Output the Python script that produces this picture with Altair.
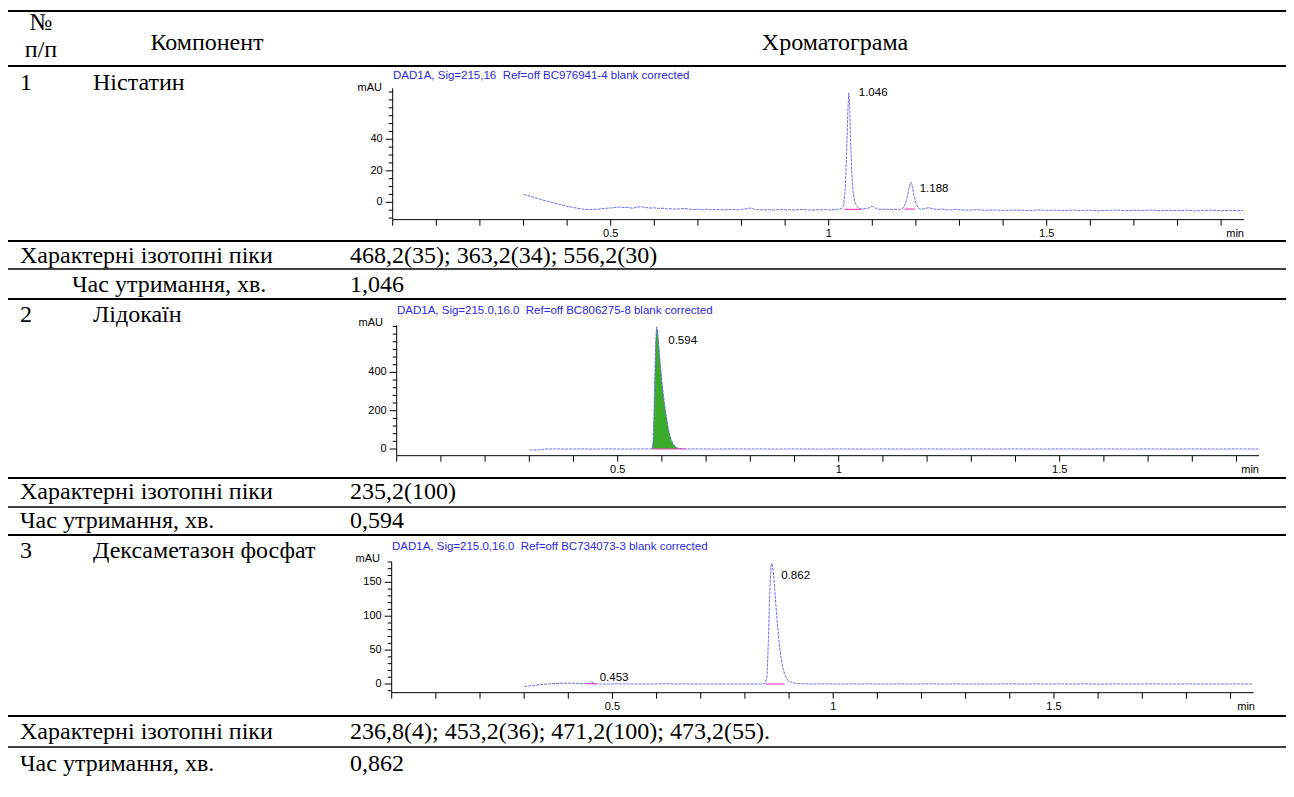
import altair as alt
import pandas as pd

W, H = 1278, 781
MARGIN = 8


def px(x):
    return x - MARGIN


def py(y):
    return y - MARGIN


SERIF = "Liberation Serif"
SANS = "Liberation Sans"
TRACE = "#5f5ff0"
TITLE_BLUE = "#2a2ae6"
PINK = "#ff3fbf"
GREEN = "#3aab2b"

# ---------------- table text ----------------
header_labels = ["№", "п/п", "Компонент", "Хроматограма"]
row_numbers = ["1", "2", "3"]
components = ["Ністатин", "Лідокаїн", "Дексаметазон фосфат"]
isotope_label = "Характерні ізотопні піки"
retention_label = "Час утримання, хв."
isotope_peaks = [
    "468,2(35); 363,2(34); 556,2(30)",
    "235,2(100)",
    "236,8(4); 453,2(36); 471,2(100); 473,2(55).",
]
retention_times = ["1,046", "0,594", "0,862"]
signal_titles = [
    "DAD1A, Sig=215,16 \u00a0Ref=off BC976941-4 blank corrected",
    "DAD1A, Sig=215.0,16.0 \u00a0Ref=off BC806275-8 blank corrected",
    "DAD1A, Sig=215.0,16.0 \u00a0Ref=off BC734073-3 blank corrected",
]

# ---------------- axis ticks ----------------
x_ticks = [0, 0.1, 0.2, 0.3, 0.4, 0.5, 0.6, 0.7, 0.8, 0.9, 1, 1.1, 1.2, 1.3, 1.4, 1.5, 1.6, 1.7, 1.8, 1.9]
x_label_values = [0.5, 1, 1.5]
x_label_texts = ["0.5", "1", "1.5"]
y_major_1 = [0, 20, 40]
y_minor_1 = [-10, -5, 5, 10, 15, 25, 30, 35, 45, 50, 55, 60, 65, 70]
y_major_2 = [0, 200, 400]
y_minor_2 = [40, 80, 120, 160, 240, 280, 320, 360, 440, 480, 520, 560, 600, 640]
y_major_3 = [0, 50, 100, 150]
y_minor_3 = [-10, 10, 20, 30, 40, 60, 70, 80, 90, 110, 120, 130, 140, 160, 170, 180]

# ---------------- chromatogram 1 (Ністатин) ----------------
trace1 = [
    (0.30, 5.0), (0.31, 4.2), (0.32, 3.5), (0.33, 2.6), (0.34, 1.8), (0.35, 1.0), (0.36, 0.3), (0.37, -0.5),
    (0.38, -1.2), (0.39, -1.8), (0.40, -2.5), (0.41, -3.0), (0.42, -3.6), (0.43, -4.1), (0.44, -4.5), (0.45, -4.6),
    (0.46, -4.4), (0.47, -4.5), (0.48, -4.0), (0.49, -3.8), (0.50, -3.6), (0.51, -3.3), (0.52, -3.0), (0.53, -3.4),
    (0.54, -3.2), (0.55, -3.8), (0.56, -3.1), (0.57, -2.9), (0.58, -3.3), (0.59, -3.6), (0.60, -3.5), (0.61, -3.9),
    (0.62, -3.8), (0.63, -4.2), (0.64, -4.0), (0.65, -4.4), (0.66, -4.1), (0.67, -3.9), (0.68, -4.3), (0.69, -4.6),
    (0.70, -4.4), (0.71, -4.7), (0.72, -4.3), (0.73, -4.8), (0.74, -4.5), (0.75, -4.6), (0.76, -4.9), (0.77, -4.4),
    (0.78, -4.6), (0.79, -4.8), (0.80, -4.5), (0.81, -4.2), (0.82, -3.6), (0.83, -4.4), (0.84, -4.7), (0.85, -4.9),
    (0.86, -4.6), (0.87, -5.0), (0.88, -4.7), (0.89, -4.5), (0.90, -4.8), (0.91, -4.6), (0.92, -4.9), (0.93, -4.7),
    (0.94, -4.5), (0.95, -4.8), (0.96, -5.0), (0.97, -4.7), (0.98, -4.8), (0.99, -4.6), (1.00, -4.9), (1.01, -4.7),
    (1.02, -4.5), (1.03, -4.0), (1.034, -2.0), (1.038, 8.0), (1.041, 30.0), (1.044, 58.0), (1.046, 69.5),
    (1.048, 62.0), (1.050, 40.0), (1.053, 18.0), (1.056, 6.0), (1.060, 0.0), (1.065, -2.8), (1.070, -4.0),
    (1.075, -4.3), (1.080, -4.1), (1.090, -3.8), (1.095, -3.0), (1.100, -2.6), (1.105, -3.2), (1.110, -4.2),
    (1.120, -4.5), (1.130, -4.3), (1.140, -4.6), (1.150, -4.4), (1.160, -4.7), (1.170, -4.0), (1.175, -1.5),
    (1.180, 3.0), (1.184, 9.0), (1.188, 12.8), (1.191, 11.0), (1.195, 5.0), (1.200, -0.5), (1.205, -3.5),
    (1.210, -4.4), (1.220, -4.0), (1.230, -3.4), (1.240, -4.2), (1.250, -4.6), (1.260, -4.3), (1.270, -4.7),
    (1.280, -4.9), (1.290, -4.6), (1.300, -4.8), (1.32, -5.0), (1.34, -4.7), (1.36, -5.1), (1.38, -4.8),
    (1.40, -5.2), (1.42, -4.9), (1.44, -5.0), (1.46, -5.3), (1.48, -4.8), (1.50, -5.1), (1.52, -5.0), (1.54, -5.3),
    (1.56, -4.9), (1.58, -5.2), (1.60, -5.0), (1.62, -5.4), (1.64, -5.1), (1.66, -4.9), (1.68, -5.3), (1.70, -5.0),
    (1.72, -5.2), (1.74, -4.9), (1.76, -5.4), (1.78, -5.1), (1.80, -5.3), (1.82, -5.0), (1.84, -5.5), (1.86, -5.2),
    (1.88, -5.0), (1.90, -5.4), (1.92, -5.1), (1.94, -5.3), (1.95, -5.2),
]
peaks1_rt = [1.046, 1.188]
peaks1_height = [69.5, 12.8]
peaks1_label = ["1.046", "1.188"]
baseline1 = [(1.036, 1.075, -4.5), (1.174, 1.198, -4.3)]

# ---------------- chromatogram 2 (Лідокаїн) ----------------
trace2 = [
    (0.300, -5), (0.312, -5), (0.340, 0), (0.36, 0.5), (0.38, -0.5), (0.40, 0), (0.42, 0.5), (0.44, -0.5),
    (0.46, 0), (0.48, 0.5), (0.50, 0), (0.52, -0.5), (0.54, 0), (0.56, 0.5), (0.570, 0), (0.578, 1),
    (0.580, 40), (0.582, 180), (0.584, 380), (0.586, 560), (0.588, 638), (0.590, 620), (0.593, 540),
    (0.596, 450), (0.600, 350), (0.605, 250), (0.610, 170), (0.615, 100), (0.620, 55), (0.625, 28),
    (0.630, 12), (0.635, 5), (0.640, 2), (0.650, 0.5), (0.660, 0), (0.68, 0.5), (0.70, 0), (0.72, -0.5),
    (0.74, 0), (0.76, 0.5), (0.78, 0), (0.80, 0), (0.82, 0.5), (0.84, 0), (0.86, -0.5), (0.88, 0), (0.90, 0.5),
    (0.92, 0), (0.94, 0), (0.96, -0.5), (0.98, 0), (1.00, 0.5), (1.02, 0), (1.04, 0), (1.06, -0.5), (1.08, 0),
    (1.10, 0.5), (1.12, 0), (1.14, 0), (1.16, -0.5), (1.18, 0), (1.20, 0.5), (1.22, 0), (1.24, 0), (1.26, -0.5),
    (1.28, 0), (1.30, 0.5), (1.32, 0), (1.34, 0), (1.36, -0.5), (1.38, 0), (1.40, 0.5), (1.42, 0), (1.44, 0),
    (1.46, -0.5), (1.48, 0), (1.50, 0.5), (1.52, 0), (1.54, 0), (1.56, -0.5), (1.58, 0), (1.60, 0.5), (1.62, 0),
    (1.64, 0), (1.66, -0.5), (1.68, 0), (1.70, 0.5), (1.72, 0), (1.74, 0), (1.76, -0.5), (1.78, 0), (1.80, 0.5),
    (1.82, 0), (1.84, 0), (1.86, -0.5), (1.88, 0), (1.90, 0.5), (1.92, 0), (1.94, 0), (1.95, 0),
]
peaks2_rt = [0.594]
peaks2_height = [638]
peaks2_label = ["0.594"]
baseline2 = [(0.578, 0.655, 0)]
fill2_range = (0.578, 0.650)

# ---------------- chromatogram 3 (Дексаметазон фосфат) ----------------
trace3 = [
    (0.30, -3.5), (0.31, -3.0), (0.32, -2.5), (0.33, -1.6), (0.34, -0.8), (0.35, 0.0), (0.36, 0.5), (0.37, 0.8),
    (0.38, 1.0), (0.39, 1.1), (0.40, 1.0), (0.41, 1.2), (0.42, 0.9), (0.43, 0.7), (0.44, 0.5), (0.445, 0.6),
    (0.448, 1.5), (0.451, 3.0), (0.453, 3.5), (0.456, 2.2), (0.460, 0.4), (0.47, 0.0), (0.48, -0.2), (0.49, 0.1),
    (0.50, 0.0), (0.52, 0.3), (0.54, -0.1), (0.56, 0.2), (0.58, 0.0), (0.60, 0.1), (0.62, 0.5), (0.64, 0.0),
    (0.66, 0.2), (0.68, -0.1), (0.70, 0.0), (0.72, 0.1), (0.74, -0.2), (0.76, 0.0), (0.78, 0.1), (0.80, -0.1),
    (0.82, 0.0), (0.84, 0.1), (0.846, 0.5), (0.850, 10), (0.853, 60), (0.856, 130), (0.859, 172), (0.861, 178),
    (0.864, 168), (0.867, 145), (0.870, 118), (0.874, 85), (0.878, 58), (0.882, 38), (0.886, 24), (0.890, 14),
    (0.895, 8), (0.900, 4), (0.910, 1.5), (0.920, 0.5), (0.94, 0.2), (0.96, 0.0), (0.98, 0.3), (1.00, 0.1),
    (1.02, -0.2), (1.04, 0.2), (1.06, 0.0), (1.08, 0.3), (1.10, -0.1), (1.12, 0.1), (1.14, 0.0), (1.16, 0.2),
    (1.18, -0.2), (1.20, 0.1), (1.22, 0.3), (1.24, 0.0), (1.26, -0.1), (1.28, 0.2), (1.30, 0.0), (1.32, 0.1),
    (1.34, -0.2), (1.36, 0.2), (1.38, 0.0), (1.40, 0.3), (1.42, -0.1), (1.44, 0.0), (1.46, 0.2), (1.48, 0.1),
    (1.50, -0.1), (1.52, 0.2), (1.54, 0.0), (1.56, 0.1), (1.58, 0.3), (1.60, -0.2), (1.62, 0.0), (1.64, 0.2),
    (1.66, 0.1), (1.68, -0.1), (1.70, 0.0), (1.72, 0.2), (1.74, 0.1), (1.76, 0.0), (1.78, -0.1), (1.80, 0.2),
    (1.82, 0.0), (1.84, 0.1), (1.86, -0.1), (1.88, 0.1), (1.90, 0.0), (1.92, 0.2), (1.94, 0.0), (1.95, 0.1),
]
peaks3_rt = [0.453, 0.862]
peaks3_height = [3.5, 178]
peaks3_label = ["0.453", "0.862"]
baseline3 = [(0.442, 0.465, 0.5), (0.848, 0.890, 0)]

# ---------------- layout (reference pixel geometry) ----------------
GEO = [
    dict(x0=392.7, xs=436.0, xmax=1.953, y0=202.3, ys=1.575, ymin=-11.0, ymax=72.4,
         title=(393, 76), mau=(382, 88), minl=(1244, 234), label_off=[(10, 0), (9, 7)]),
    dict(x0=396.7, xs=442.0, xmax=1.951, y0=449.0, ys=0.1915, ymin=-35.0, ymax=647.0,
         title=(397, 311), mau=(383, 323), minl=(1259, 470), label_off=[(9, 14)]),
    dict(x0=391.7, xs=441.5, xmax=1.952, y0=684.0, ys=0.678, ymin=-12.8, ymax=180.4,
         title=(392, 547), mau=(380, 559), minl=(1255, 707), label_off=[(8, -4), (9, 13)]),
]

ONE = pd.DataFrame({"k": [0]})


def text_mark(s, x, y, align="left", size=24, font=SERIF, color="black"):
    return alt.Chart(pd.DataFrame({"s": [s]})).mark_text(
        align=align, baseline="middle", font=font, fontSize=size, color=color
    ).encode(text="s:N", x=alt.value(px(x)), y=alt.value(py(y)))


def hline(y, width=2.0):
    return alt.Chart(ONE).mark_rule(color="black", strokeWidth=width).encode(
        x=alt.value(0), x2=alt.value(W), y=alt.value(py(y))
    )


def chromatogram(trace, rts, heights, labels, baselines, y_major, y_minor, title, g, fill=None):
    xr0 = px(g["x0"])
    xr1 = px(g["x0"] + g["xmax"] * g["xs"])
    yb = py(g["y0"] - g["ymin"] * g["ys"])
    yt = py(g["y0"] - g["ymax"] * g["ys"])
    xs = alt.Scale(domain=[0, g["xmax"]], range=[xr0, xr1], nice=False, zero=False)
    ys = alt.Scale(domain=[g["ymin"], g["ymax"]], range=[yb, yt], nice=False, zero=False)
    df = pd.DataFrame(trace, columns=["t", "v"])
    layers = []

    # --- axes drawn through the chromatogram's own scales ---
    layers.append(alt.Chart(ONE).mark_rule(color="black", strokeWidth=1).encode(
        x=alt.X(datum=0, scale=xs, axis=None), x2=alt.X2(datum=g["xmax"]),
        y=alt.Y(datum=g["ymin"], scale=ys, axis=None)))
    layers.append(alt.Chart(ONE).mark_rule(color="black", strokeWidth=1).encode(
        x=alt.X(datum=0, scale=xs, axis=None),
        y=alt.Y(datum=g["ymin"], scale=ys, axis=None), y2=alt.Y2(datum=g["ymax"])))
    layers.append(alt.Chart(pd.DataFrame({"m": x_ticks})).mark_rule(color="black", strokeWidth=1).encode(
        x=alt.X("m:Q", scale=xs, axis=None),
        y=alt.Y(datum=g["ymin"], scale=ys, axis=None), y2=alt.value(yb + 6)))
    layers.append(alt.Chart(pd.DataFrame({"m": x_label_values, "s": x_label_texts})).mark_text(
        align="center", baseline="middle", font=SANS, fontSize=11, color="black", dy=14).encode(
        x=alt.X("m:Q", scale=xs, axis=None),
        y=alt.Y(datum=g["ymin"], scale=ys, axis=None), text="s:N"))
    layers.append(alt.Chart(pd.DataFrame({"m": y_major})).mark_rule(color="black", strokeWidth=1).encode(
        y=alt.Y("m:Q", scale=ys, axis=None),
        x=alt.X(datum=0, scale=xs, axis=None), x2=alt.value(xr0 - 7)))
    layers.append(alt.Chart(pd.DataFrame({"m": y_minor})).mark_rule(color="black", strokeWidth=1).encode(
        y=alt.Y("m:Q", scale=ys, axis=None),
        x=alt.X(datum=0, scale=xs, axis=None), x2=alt.value(xr0 - 4)))
    layers.append(alt.Chart(pd.DataFrame({"m": y_major})).mark_text(
        align="right", baseline="middle", font=SANS, fontSize=11, color="black", dx=-10).encode(
        y=alt.Y("m:Q", scale=ys, axis=None),
        x=alt.X(datum=0, scale=xs, axis=None), text=alt.Text("m:Q", format="d")))

    # --- signal ---
    if fill is not None:
        layers.append(
            alt.Chart(df).transform_filter(
                (alt.datum.t >= fill[0]) & (alt.datum.t <= fill[1])
            ).mark_area(color=GREEN, opacity=1).encode(
                x=alt.X("t:Q", scale=xs, axis=None),
                y=alt.Y("v:Q", scale=ys, axis=None),
                y2=alt.Y2(datum=0),
            )
        )
    layers.append(
        alt.Chart(df).mark_line(color=TRACE, strokeWidth=0.9, strokeDash=[3, 1]).encode(
            x=alt.X("t:Q", scale=xs, axis=None),
            y=alt.Y("v:Q", scale=ys, axis=None),
        )
    )
    bl = pd.DataFrame(baselines, columns=["s", "e", "b"])
    layers.append(
        alt.Chart(bl).mark_rule(color=PINK, strokeWidth=1.2).encode(
            x=alt.X("s:Q", scale=xs, axis=None), x2="e:Q",
            y=alt.Y("b:Q", scale=ys, axis=None),
        )
    )
    for i, (rt, h, lab) in enumerate(zip(rts, heights, labels)):
        dx, dy = g["label_off"][i]
        layers.append(
            alt.Chart(pd.DataFrame({"t": [rt], "v": [h], "s": [lab]})).mark_text(
                align="left", baseline="middle", font=SANS, fontSize=11.5, color="black", dx=dx, dy=dy
            ).encode(
                x=alt.X("t:Q", scale=xs, axis=None),
                y=alt.Y("v:Q", scale=ys, axis=None),
                text="s:N",
            )
        )
    # chart annotations
    layers.append(text_mark(title, g["title"][0], g["title"][1], size=11.5, font=SANS, color=TITLE_BLUE))
    layers.append(text_mark("mAU", g["mau"][0], g["mau"][1], align="right", size=11, font=SANS))
    layers.append(text_mark("min", g["minl"][0], g["minl"][1], align="right", size=11, font=SANS))
    return alt.layer(*layers)


# ---------------- table layer ----------------
table = [
    hline(11), hline(66), hline(241), hline(269, 1.5), hline(299),
    hline(478), hline(507, 1.5), hline(535), hline(716), hline(747, 1.5),
    text_mark(header_labels[0], 41, 23, align="center"),
    text_mark(header_labels[1], 41, 50, align="center"),
    text_mark(header_labels[2], 207, 43, align="center"),
    text_mark(header_labels[3], 835, 43, align="center"),
]
row_y = [83, 315, 551]
iso_y = [256, 492, 732]
ret_y = [285, 521, 764]
ret_x = [72, 20, 20]
for i in range(3):
    table += [
        text_mark(row_numbers[i], 20, row_y[i]),
        text_mark(components[i], 93, row_y[i]),
        text_mark(isotope_label, 20, iso_y[i]),
        text_mark(isotope_peaks[i], 350, iso_y[i]),
        text_mark(retention_label, ret_x[i], ret_y[i]),
        text_mark(retention_times[i], 350, ret_y[i]),
    ]

c1 = chromatogram(trace1, peaks1_rt, peaks1_height, peaks1_label, baseline1, y_major_1, y_minor_1,
                  signal_titles[0], GEO[0])
c2 = chromatogram(trace2, peaks2_rt, peaks2_height, peaks2_label, baseline2, y_major_2, y_minor_2,
                  signal_titles[1], GEO[1], fill=fill2_range)
c3 = chromatogram(trace3, peaks3_rt, peaks3_height, peaks3_label, baseline3, y_major_3, y_minor_3,
                  signal_titles[2], GEO[2])

chart = alt.layer(alt.layer(*table), c1, c2, c3).resolve_scale(
    x="independent", y="independent"
).properties(
    width=W, height=H, autosize=alt.AutoSizeParams(type="none"), padding=0, background="white"
).configure_view(strokeWidth=0)

chart.save("out.html", embed_options={"renderer": "svg", "actions": False})
